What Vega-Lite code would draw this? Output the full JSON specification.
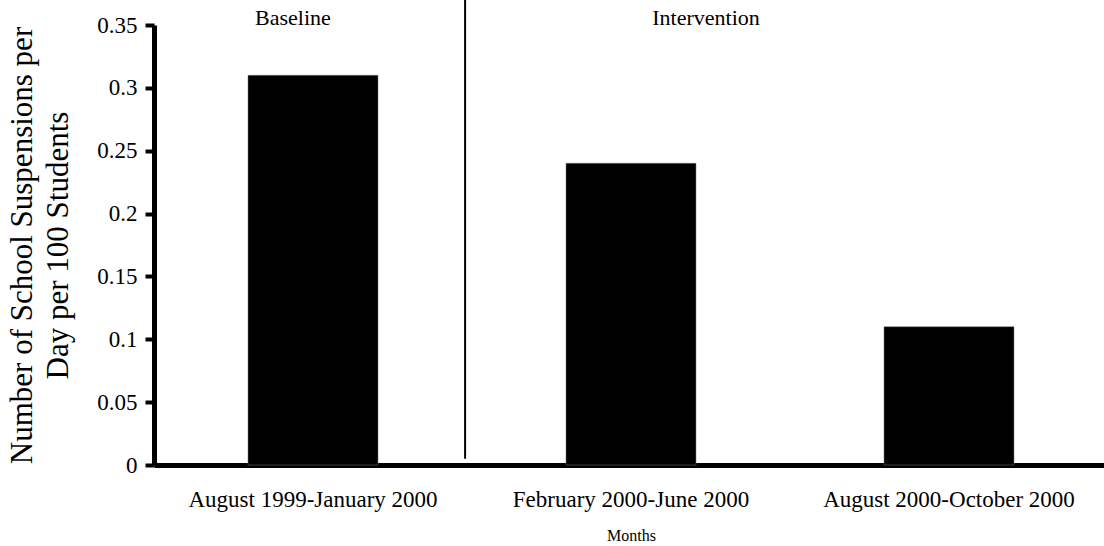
{
  "$schema": "https://vega.github.io/schema/vega-lite/v6.json",
  "width": 950,
  "height": 440,
  "autosize": "none",
  "padding": {"left": 154, "top": 25, "right": 0, "bottom": 81},
  "background": "white",
  "config": {
    "view": {"stroke": null},
    "font": "Liberation Serif",
    "axis": {"labelFont": "Liberation Serif", "titleFont": "Liberation Serif", "labelColor": "black", "titleColor": "black", "domainColor": "black", "tickColor": "black", "grid": false, "titleFontWeight": "normal", "labelLimit": 0}
  },
  "layer": [
    {
      "data": {
        "values": [
          {"month": "August 1999-January 2000", "rate": 0.31},
          {"month": "February 2000-June 2000", "rate": 0.24},
          {"month": "August 2000-October 2000", "rate": 0.11}
        ]
      },
      "mark": {"type": "bar", "color": "black", "stroke": "#777", "strokeWidth": 0.5},
      "encoding": {
        "x": {
          "field": "month", "type": "nominal", "sort": null,
          "scale": {"range": [0, 954], "paddingInner": 0.5912, "paddingOuter": 0.2956},
          "axis": {"title": "Months", "titleFontSize": 16, "titlePadding": 16, "labelFontSize": 23, "labelAngle": 0, "ticks": false, "tickSize": 0, "labelPadding": 23, "domainWidth": 5, "labelLimit": 0}
        },
        "y": {
          "field": "rate", "type": "quantitative",
          "scale": {"domain": [0, 0.35], "nice": false},
          "axis": {
            "title": ["Number of School Suspensions per", "Day per 100 Students"],
            "titleFontSize": 31, "titleLineHeight": 36, "titlePadding": 22,
            "values": [0, 0.05, 0.1, 0.15, 0.2, 0.25, 0.3, 0.35], "format": "~g",
            "labelFontSize": 23, "labelPadding": 8, "tickSize": 9, "tickWidth": 4, "domainWidth": 5
          }
        }
      }
    },
    {
      "data": {"values": [{"phase": "divider"}]},
      "mark": {"type": "rule", "color": "black", "strokeWidth": 2},
      "encoding": {
        "x": {"datum": "August 1999-January 2000", "type": "nominal", "bandPosition": 1.67},
        "y": {"datum": 0.005, "type": "quantitative"},
        "y2": {"datum": 0.37}
      }
    },
    {
      "data": {"values": [{"phase": "Baseline"}]},
      "mark": {"type": "text", "fontSize": 22, "font": "Liberation Serif", "fontWeight": "normal", "baseline": "alphabetic", "align": "center", "color": "black"},
      "encoding": {
        "text": {"field": "phase"},
        "x": {"datum": "August 1999-January 2000", "type": "nominal", "bandPosition": 0.346},
        "y": {"datum": 0.35, "type": "quantitative"}
      }
    },
    {
      "data": {"values": [{"phase": "Intervention"}]},
      "mark": {"type": "text", "fontSize": 22, "font": "Liberation Serif", "fontWeight": "normal", "baseline": "alphabetic", "align": "center", "color": "black"},
      "encoding": {
        "text": {"field": "phase"},
        "x": {"datum": "February 2000-June 2000", "type": "nominal", "bandPosition": 1.077},
        "y": {"datum": 0.35, "type": "quantitative"}
      }
    }
  ]
}
